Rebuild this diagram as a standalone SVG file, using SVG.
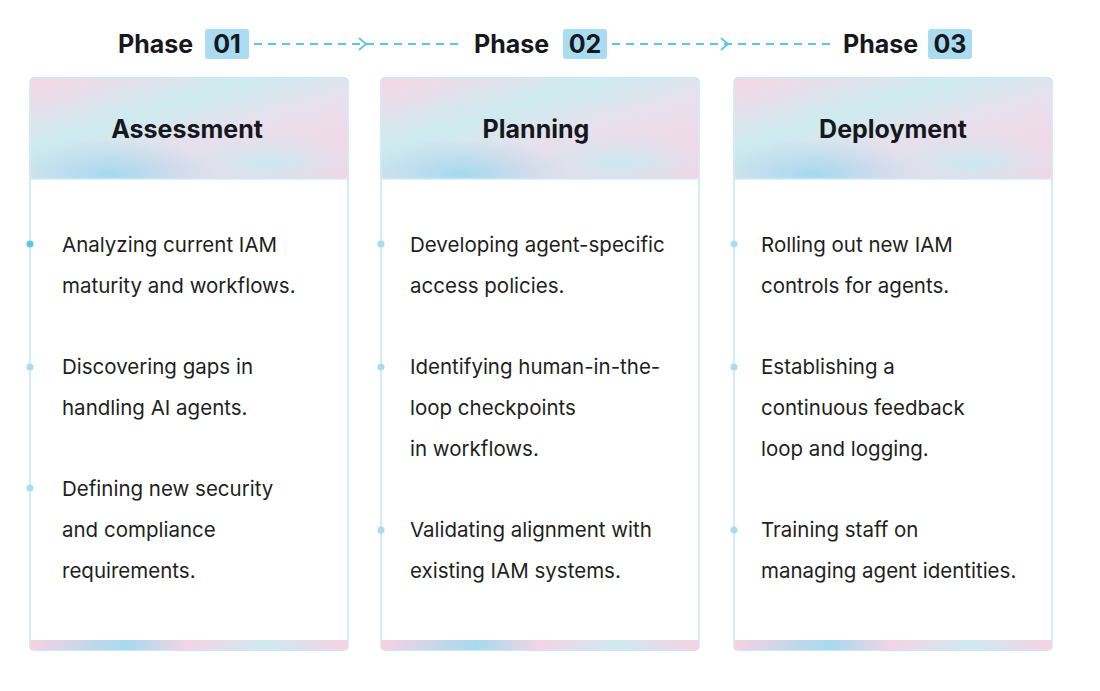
<svg xmlns="http://www.w3.org/2000/svg" width="1100" height="691" viewBox="0 0 1100 691">
<style>
.ph{font-family:Inter,"Liberation Sans",sans-serif;font-weight:700;font-size:25px;fill:#16181d}
.tt{font-family:Inter,"Liberation Sans",sans-serif;font-weight:700;font-size:25px;fill:#16181d;text-anchor:middle}
.bd{font-family:Inter,"Liberation Sans",sans-serif;font-size:20.5px;fill:#1e1f22}
.card{fill:#fff;stroke:#b9e3f3;stroke-width:1.3}
.badge{fill:#a9dcf0}
.dot{fill:#a8dcf0}
.dash{stroke:#5cc6e3;stroke-width:1.8;stroke-dasharray:8 6;fill:none}
.chev{stroke:#5cc6e3;stroke-width:1.8;fill:none}
</style>
<defs>
<linearGradient id="hg" x1="0" y1="0" x2="1" y2="1">
<stop offset="0" stop-color="#f9d6e6"/><stop offset="0.35" stop-color="#cdebf0"/><stop offset="0.6" stop-color="#e9dfec"/><stop offset="1" stop-color="#f7d4e4"/>
</linearGradient>
<radialGradient id="rb" cx="0.25" cy="0.95" r="0.35"><stop offset="0" stop-color="#9ed9ef" stop-opacity="0.9"/><stop offset="1" stop-color="#9ed9ef" stop-opacity="0"/></radialGradient>
<radialGradient id="rc" cx="0.75" cy="0.85" r="0.3"><stop offset="0" stop-color="#c7eaf0" stop-opacity="0.9"/><stop offset="1" stop-color="#c7eaf0" stop-opacity="0"/></radialGradient>
<linearGradient id="sg" x1="0" y1="0" x2="1" y2="0">
<stop offset="0" stop-color="#f6d2e2"/><stop offset="0.3" stop-color="#a6daef"/><stop offset="0.5" stop-color="#f4d4e4"/><stop offset="0.75" stop-color="#cfe9f0"/><stop offset="1" stop-color="#f6d2e2"/>
</linearGradient>
</defs>
<g id="connectors">
<path class="dash" d="M254 44 H458"/><path class="chev" d="M359 38 L366 44 L359 50"/>
<path class="dash" d="M612 44 H836"/><path class="chev" d="M721 38 L728 44 L721 50"/>
</g>
<g id="phase1"><text class="ph" x="118" y="53">Phase</text><rect class="badge" x="205" y="29" width="44" height="30" rx="3"/><text class="tt" x="227" y="53">01</text></g>
<g id="phase2"><text class="ph" x="474" y="53">Phase</text><rect class="badge" x="563" y="29" width="44" height="30" rx="3"/><text class="tt" x="585" y="53">02</text></g>
<g id="phase3"><text class="ph" x="843" y="53">Phase</text><rect class="badge" x="928" y="29" width="44" height="30" rx="3"/><text class="tt" x="950" y="53">03</text></g>

<g id="card1">
<rect class="card" x="30" y="78" width="318" height="572" rx="4"/>
<rect x="30.5" y="78.5" width="317" height="100" rx="4" fill="url(#hg)"/>
<rect x="30.5" y="78.5" width="317" height="100" fill="url(#rb)"/><rect x="30.5" y="78.5" width="317" height="100" fill="url(#rc)"/>
<line x1="30" y1="179" x2="348" y2="179" stroke="#b9e3f3"/>
<rect x="30.5" y="640" width="317" height="10" fill="url(#sg)"/>
<text class="tt" x="187" y="138">Assessment</text>
<circle cx="30" cy="244" r="3.5" fill="#5cc6e3"/><circle class="dot" cx="30" cy="367" r="3.5"/><circle class="dot" cx="30" cy="488" r="3.5"/>
<text class="bd" x="62" y="252">Analyzing current IAM</text><text class="bd" x="62" y="293">maturity and workflows.</text>
<text class="bd" x="62" y="374">Discovering gaps in</text><text class="bd" x="62" y="415">handling AI agents.</text>
<text class="bd" x="62" y="496">Defining new security</text><text class="bd" x="62" y="537">and compliance</text><text class="bd" x="62" y="578">requirements.</text>
</g>
<g id="card2">
<rect class="card" x="381" y="78" width="318" height="572" rx="4"/>
<rect x="381.5" y="78.5" width="317" height="100" rx="4" fill="url(#hg)"/>
<rect x="381.5" y="78.5" width="317" height="100" fill="url(#rb)"/><rect x="381.5" y="78.5" width="317" height="100" fill="url(#rc)"/>
<line x1="381" y1="179" x2="699" y2="179" stroke="#b9e3f3"/>
<rect x="381.5" y="640" width="317" height="10" fill="url(#sg)"/>
<text class="tt" x="536" y="138">Planning</text>
<circle class="dot" cx="381" cy="244" r="3.5"/><circle class="dot" cx="381" cy="367" r="3.5"/><circle class="dot" cx="381" cy="530" r="3.5"/>
<text class="bd" x="410" y="252">Developing agent-specific</text><text class="bd" x="410" y="293">access policies.</text>
<text class="bd" x="410" y="374">Identifying human-in-the-</text><text class="bd" x="410" y="415">loop checkpoints</text><text class="bd" x="410" y="456">in workflows.</text>
<text class="bd" x="410" y="537">Validating alignment with</text><text class="bd" x="410" y="578">existing IAM systems.</text>
</g>
<g id="card3">
<rect class="card" x="734" y="78" width="318" height="572" rx="4"/>
<rect x="734.5" y="78.5" width="317" height="100" rx="4" fill="url(#hg)"/>
<rect x="734.5" y="78.5" width="317" height="100" fill="url(#rb)"/><rect x="734.5" y="78.5" width="317" height="100" fill="url(#rc)"/>
<line x1="734" y1="179" x2="1052" y2="179" stroke="#b9e3f3"/>
<rect x="734.5" y="640" width="317" height="10" fill="url(#sg)"/>
<text class="tt" x="893" y="138">Deployment</text>
<circle class="dot" cx="734" cy="244" r="3.5"/><circle class="dot" cx="734" cy="367" r="3.5"/><circle class="dot" cx="734" cy="530" r="3.5"/>
<text class="bd" x="761" y="252">Rolling out new IAM</text><text class="bd" x="761" y="293">controls for agents.</text>
<text class="bd" x="761" y="374">Establishing a</text><text class="bd" x="761" y="415">continuous feedback</text><text class="bd" x="761" y="456">loop and logging.</text>
<text class="bd" x="761" y="537">Training staff on</text><text class="bd" x="761" y="578">managing agent identities.</text>
</g>
</svg>
